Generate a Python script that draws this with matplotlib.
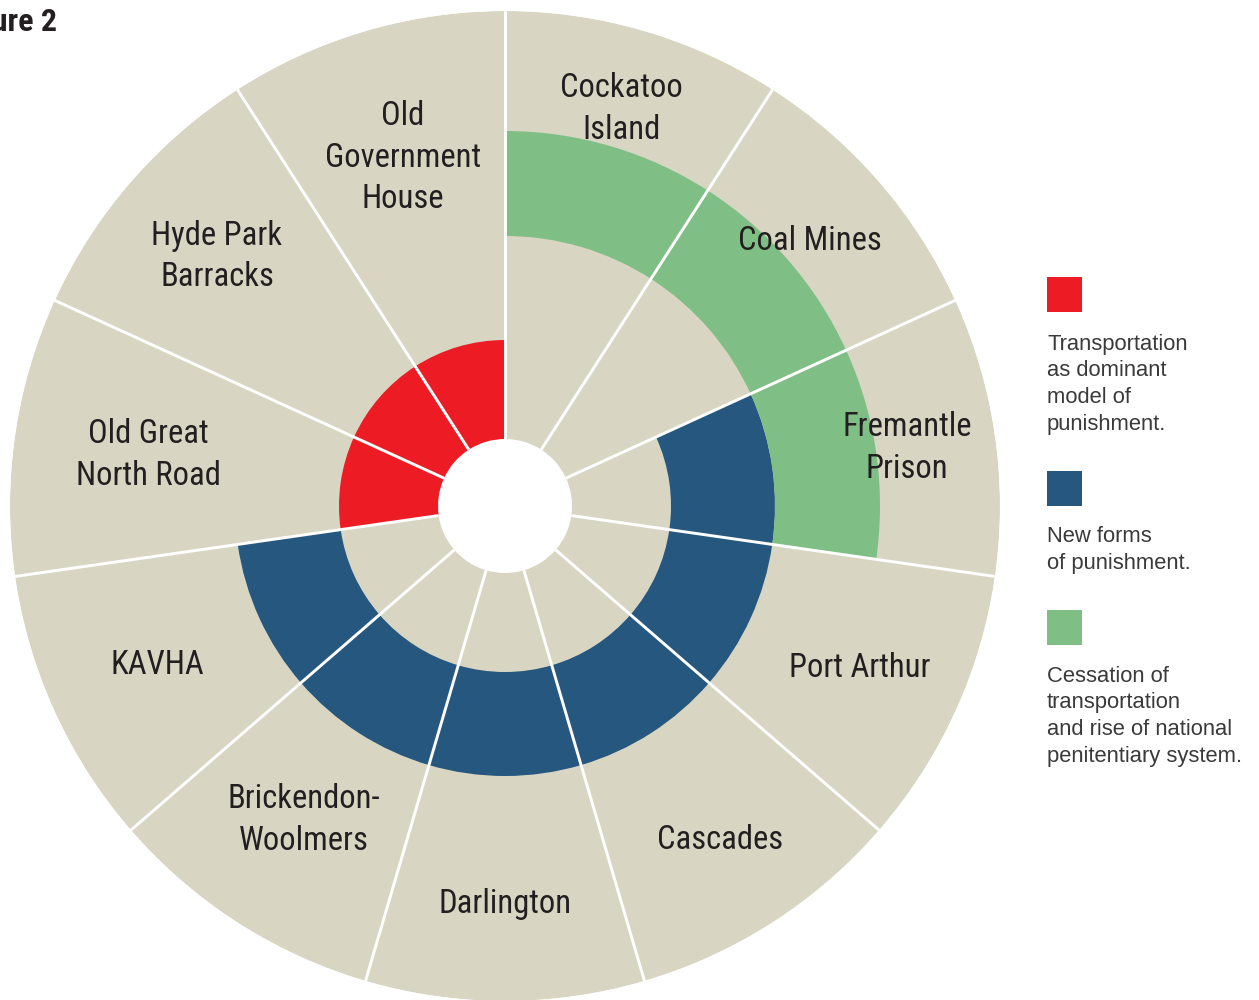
import numpy as np
import matplotlib
matplotlib.use("Agg")
import matplotlib.pyplot as plt
from matplotlib.patches import Rectangle

# sites clockwise from 12 o'clock
sites = ["Cockatoo\nIsland", "Coal Mines", "Fremantle\nPrison", "Port Arthur",
         "Cascades", "Darlington", "Brickendon-\nWoolmers", "KAVHA",
         "Old Great\nNorth Road", "Hyde Park\nBarracks", "Old\nGovernment\nHouse"]
# which ring is filled for each site
transportation = [0, 0, 0, 0, 0, 0, 0, 0, 1, 1, 1]
new_forms      = [0, 0, 1, 1, 1, 1, 1, 1, 0, 0, 0]
cessation      = [1, 1, 1, 0, 0, 0, 0, 0, 0, 0, 0]

legend_labels = ["Transportation\nas dominant\nmodel of\npunishment.",
                 "New forms\nof punishment.",
                 "Cessation of\ntransportation\nand rise of national\npenitentiary system."]

BEIGE = "#d8d6c3"
RED = "#ed1c24"
BLUE = "#26577f"
GREEN = "#7fbf86"
TXT = "#231f20"

# ring radii (px)
R_HOLE, R1, R2, R3, R_OUT = 67, 166, 270, 375, 495
label_r = [414, 404, 406, 390, 397, 398, 373, 382, 360, 381, 363]

W, H = 1259, 1000
fig = plt.figure(figsize=(W / 100, H / 100), dpi=100)

def fx(x): return x / W
def fy(y): return 1 - y / H

cx, cy = 505, 506
ax = fig.add_axes([fx(cx - R_OUT), fy(cy + R_OUT), 2 * R_OUT / W, 2 * R_OUT / H],
                  projection="polar")
ax.set_theta_zero_location("N")
ax.set_theta_direction(-1)

n = len(sites)
width = 2 * np.pi / n
theta = np.arange(n) * width + width / 2

ax.bar(theta, R_OUT - R_HOLE, width=width, bottom=R_HOLE, color=BEIGE, linewidth=0)
ax.bar(theta, np.array(transportation) * (R1 - R_HOLE), width=width, bottom=R_HOLE,
       color=RED, linewidth=0)
ax.bar(theta, np.array(new_forms) * (R2 - R1), width=width, bottom=R1,
       color=BLUE, linewidth=0)
ax.bar(theta, np.array(cessation) * (R3 - R2), width=width, bottom=R2,
       color=GREEN, linewidth=0)

# white separators
for k in range(n):
    t = k * width
    ax.plot([t, t], [R_HOLE, R_OUT + 5], color="white", lw=2.1, solid_capstyle="butt")

font = ["Roboto Condensed", "DejaVu Sans"]
for t, r, s in zip(theta, label_r, sites):
    ax.text(t, r, s, ha="center", va="center", fontsize=23.5, color=TXT,
            family=font, linespacing=1.38)

ax.set_ylim(0, R_OUT)
ax.axis("off")

# title, cut at the left edge like the source
fig.text(fx(57), fy(31), "Figure 2", fontsize=23, fontweight="bold",
         family=font, color=TXT, va="baseline", ha="right")

# legend
sq_tops = [277, 471, 610]
last_base = [430, 569, 762]
for top, base, col, lab in zip(sq_tops, last_base, [RED, BLUE, GREEN], legend_labels):
    fig.patches.append(Rectangle((fx(1047), fy(top + 35)), 35 / W, 35 / H,
                                 transform=fig.transFigure, color=col, lw=0))
    fig.text(fx(1047), fy(base), lab, fontsize=15.8, color="#3a3a3a",
             family=["Liberation Sans", "DejaVu Sans"], va="baseline", ha="left",
             linespacing=1.36)

fig.savefig("out.png", dpi=100)
